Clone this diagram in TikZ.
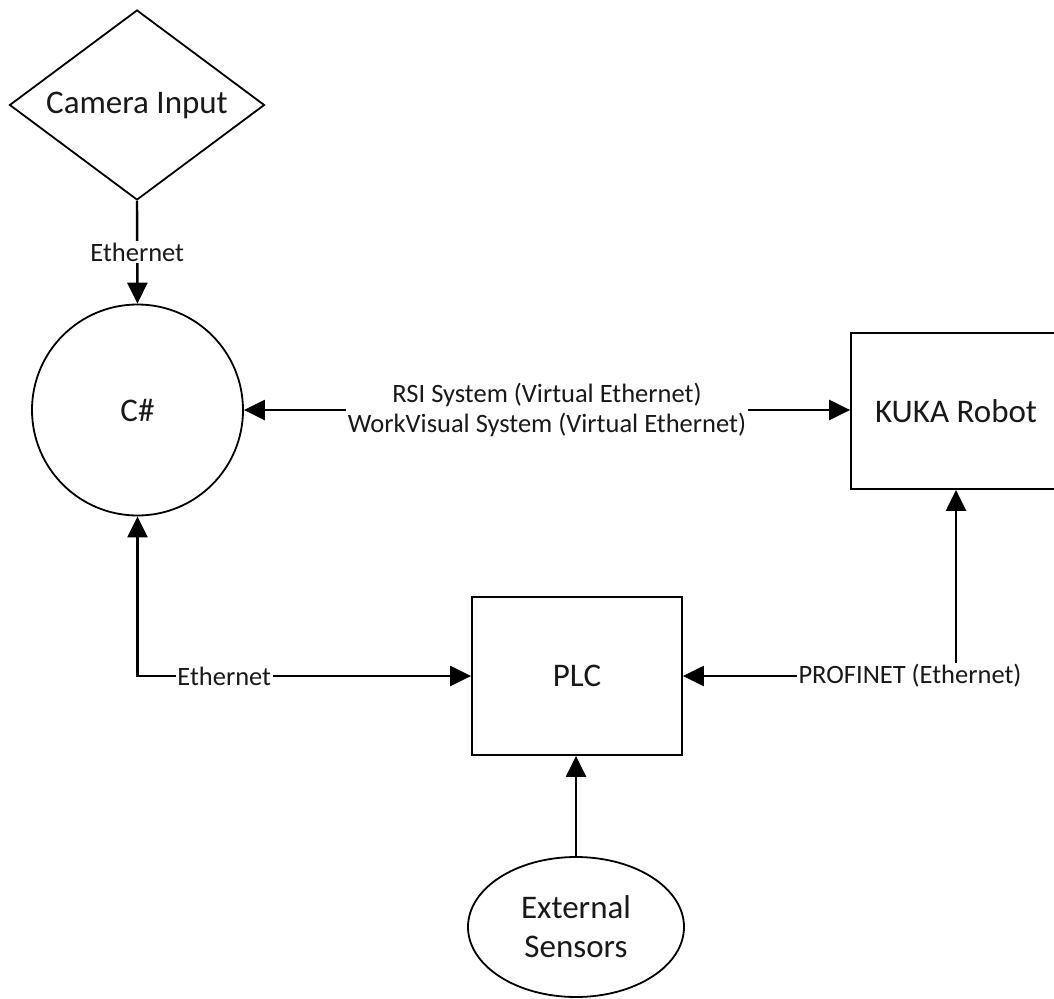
\documentclass[tikz,border=0pt]{standalone}
\usepackage{fontspec}
\setmainfont{Carlito}
\usetikzlibrary{shapes.geometric,arrows.meta}
\begin{document}
\begin{tikzpicture}[x=1pt,y=-1pt,
  shp/.style={draw=black, line width=1.8pt, fill=white, inner sep=0pt, font=\fontsize{33}{40}\selectfont, text=black!90},
  tip/.style={Triangle[length=21pt,width=20pt]},
  conn/.style={line width=2.4pt, -{Triangle[length=21pt,width=20pt]}},
  biconn/.style={line width=2.4pt, {Triangle[length=21pt,width=20pt]}-{Triangle[length=21pt,width=20pt]}},
  lbl/.style={fill=white, inner sep=1.5pt, font=\fontsize{26.5}{30}\selectfont, text=black!90}]
\useasboundingbox (0,0) rectangle (1054,998);
\node[shp, diamond, minimum width=255pt, minimum height=190pt, aspect=1.34] (cam) at (137,105) {Camera Input};
\node[shp, circle, minimum size=211pt] (cs) at (137.5,410) {C\#};
\node[shp, rectangle, minimum width=210pt, minimum height=156pt] (kuka) at (956,411) {KUKA Robot};
\node[shp, rectangle, minimum width=210pt, minimum height=158pt] (plc) at (577,676) {PLC};
\node[shp, ellipse, minimum width=216pt, minimum height=140pt, align=center] (ext) at (576,927) {External\\[-1pt]Sensors};

\draw[conn] (cam.south) -- (cs.north) node[lbl, midway] {Ethernet};
\draw[biconn] (cs.east) -- (cs.east -| kuka.west) node[lbl, midway, align=center] {RSI System (Virtual Ethernet)\\WorkVisual System (Virtual Ethernet)};
\draw[biconn] (cs.south) |- (plc.west) node[lbl, pos=0.63] {Ethernet};
\draw[biconn] (plc.east) -| (kuka.south) node[lbl, pos=0.5, xshift=-46pt] {PROFINET (Ethernet)};
\draw[conn] (ext.north) -- (ext.north |- plc.south);
\end{tikzpicture}
\end{document}
